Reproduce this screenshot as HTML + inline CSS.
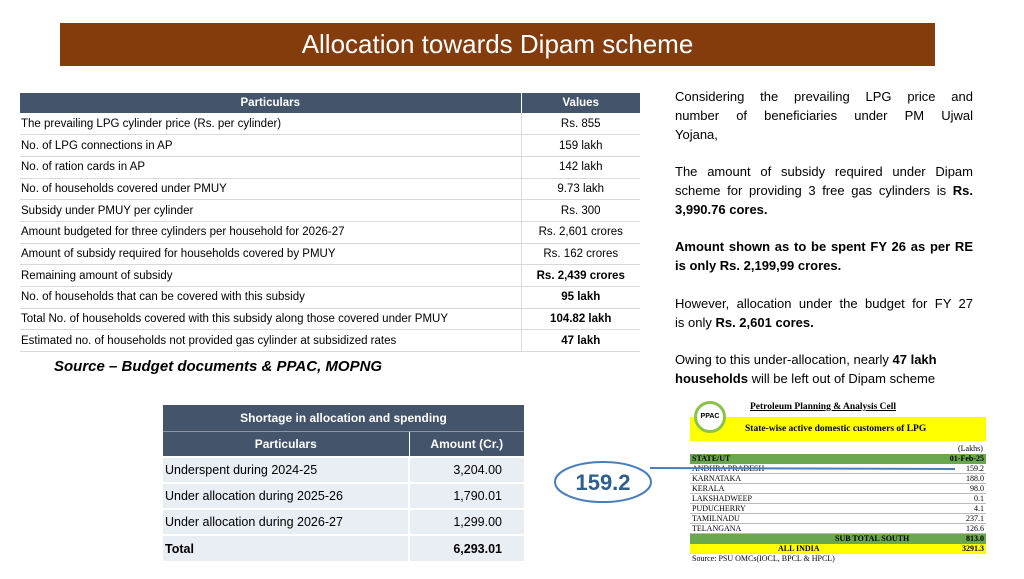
<!DOCTYPE html>
<html><head><meta charset="utf-8"><style>
*{margin:0;padding:0;box-sizing:border-box}
body{width:1024px;height:579px;background:#fff;position:relative;overflow:hidden;font-family:"Liberation Sans",sans-serif;color:#000}
.abs{position:absolute}
#banner{left:60px;top:23px;width:875px;height:43px;background:#843c0c;color:#fff;font-size:26px;text-align:center;line-height:43px}
table{border-collapse:collapse}
#t1{left:20px;top:93px;width:620px;font-size:11.5px}
#t1 th{background:#44546a;color:#fff;height:20px;font-weight:bold;font-size:11.5px}
#t1 td{height:21.7px;border-bottom:1px solid #d9d9d9;padding:0 1px;white-space:nowrap}
#t1 td.v{text-align:center;border-left:1px solid #d9d9d9}
#t1 th.v{border-left:1px solid #fff}
#t2{left:163px;top:405px;width:361px;font-size:12.5px}
#t2 th{background:#44546a;color:#fff;height:26px;font-size:12px}
#t2 td{background:#e9edf4;height:26px;border-top:2px solid #fff;padding:0 2px}
#t2 td.v{text-align:right;padding-right:22px;border-left:2px solid #fff}
#txt{left:675px;top:88px;width:298px;font-size:13px;line-height:18.8px}
#txt div{height:18.8px;white-space:nowrap}
#txt .j{text-align:justify;text-align-last:justify;white-space:normal}
#src{left:54px;top:358px;font-size:15px;font-weight:bold;font-style:italic}
#ppac{left:690px;top:395px;width:300px;height:172px;font-family:"Liberation Serif",serif;font-size:8px}
</style></head><body>
<div id="banner" class="abs">Allocation towards Dipam scheme</div>
<table id="t1" class="abs">
<tr><th>Particulars</th><th class="v" style="width:119px">Values</th></tr>
<tr><td>The prevailing LPG cylinder price (Rs. per cylinder)</td><td class="v">Rs. 855</td></tr>
<tr><td>No. of LPG connections in AP</td><td class="v">159 lakh</td></tr>
<tr><td>No. of ration cards in AP</td><td class="v">142 lakh</td></tr>
<tr><td>No. of households covered under PMUY</td><td class="v">9.73 lakh</td></tr>
<tr><td>Subsidy under PMUY per cylinder</td><td class="v">Rs. 300</td></tr>
<tr><td>Amount budgeted for three cylinders per household for 2026-27</td><td class="v">Rs. 2,601 crores</td></tr>
<tr><td>Amount of subsidy required for households covered by PMUY</td><td class="v">Rs. 162 crores</td></tr>
<tr><td>Remaining amount of subsidy</td><td class="v"><b>Rs. 2,439 crores</b></td></tr>
<tr><td>No. of households that can be covered with this subsidy</td><td class="v"><b>95 lakh</b></td></tr>
<tr><td>Total No. of households covered with this subsidy along those covered under PMUY</td><td class="v"><b>104.82 lakh</b></td></tr>
<tr><td>Estimated no. of households not provided gas cylinder at subsidized rates</td><td class="v"><b>47 lakh</b></td></tr>
</table>
<div id="src" class="abs">Source – Budget documents &amp; PPAC, MOPNG</div>
<table id="t2" class="abs">
<tr><th colspan="2">Shortage in allocation and spending</th></tr>
<tr><th style="border-top:1px solid #8a96a8">Particulars</th><th style="width:115px;border-top:1px solid #8a96a8;border-left:1px solid #fff">Amount (Cr.)</th></tr>
<tr><td>Underspent during 2024-25</td><td class="v">3,204.00</td></tr>
<tr><td>Under allocation during 2025-26</td><td class="v">1,790.01</td></tr>
<tr><td>Under allocation during 2026-27</td><td class="v">1,299.00</td></tr>
<tr><td><b>Total</b></td><td class="v"><b>6,293.01</b></td></tr>
</table>
<div id="txt" class="abs">
<div class="j">Considering the prevailing LPG price and</div>
<div class="j">number of beneficiaries under PM Ujwal</div>
<div>Yojana,</div>
<div></div>
<div class="j">The amount of subsidy required under Dipam</div>
<div class="j">scheme for providing 3 free gas cylinders is <b>Rs.</b></div>
<div><b>3,990.76 cores.</b></div>
<div></div>
<div class="j"><b>Amount shown as to be spent FY 26 as per RE</b></div>
<div><b>is only Rs. 2,199,99 crores.</b></div>
<div></div>
<div class="j">However, allocation under the budget for FY 27</div>
<div>is only <b>Rs. 2,601 cores.</b></div>
<div></div>
<div>Owing to this under-allocation, nearly <b>47 lakh</b></div>
<div><b>households</b> will be left out of Dipam scheme</div>
</div>
<div id="ppac" class="abs">
<div class="abs" style="left:4px;top:6px;width:32px;height:32px;border-radius:50%;border:3px solid #8bc34a;background:#fff;font-size:7px;font-weight:bold;text-align:center;line-height:26px;font-family:'Liberation Sans',sans-serif;z-index:2">PPAC</div>
<div class="abs" style="left:60px;top:7px;font-size:9.5px;font-weight:bold;text-decoration:underline">Petroleum Planning &amp; Analysis Cell</div>
<div class="abs" style="left:0;top:22px;width:296px;height:24px;background:#ffff00;font-size:9.5px;font-weight:bold;padding-left:55px;line-height:24px">State-wise active domestic customers of LPG</div>
<div class="abs" style="left:268px;top:49px">(Lakhs)</div>
<div class="abs" style="left:0;top:59px;width:296px">
<div style="height:10px;background:#6aa84f;font-weight:bold;display:flex;justify-content:space-between;padding:0 2px;line-height:10px"><span>STATE/UT</span><span>01-Feb-25</span></div>
<div style="height:10px;border-bottom:1px solid #bbb;display:flex;justify-content:space-between;padding:0 2px;line-height:10px"><span>ANDHRA PRADESH</span><span>159.2</span></div>
<div style="height:10px;border-bottom:1px solid #bbb;display:flex;justify-content:space-between;padding:0 2px;line-height:10px"><span>KARNATAKA</span><span>188.0</span></div>
<div style="height:10px;border-bottom:1px solid #bbb;display:flex;justify-content:space-between;padding:0 2px;line-height:10px"><span>KERALA</span><span>98.0</span></div>
<div style="height:10px;border-bottom:1px solid #bbb;display:flex;justify-content:space-between;padding:0 2px;line-height:10px"><span>LAKSHADWEEP</span><span>0.1</span></div>
<div style="height:10px;border-bottom:1px solid #bbb;display:flex;justify-content:space-between;padding:0 2px;line-height:10px"><span>PUDUCHERRY</span><span>4.1</span></div>
<div style="height:10px;border-bottom:1px solid #bbb;display:flex;justify-content:space-between;padding:0 2px;line-height:10px"><span>TAMILNADU</span><span>237.1</span></div>
<div style="height:10px;border-bottom:1px solid #bbb;display:flex;justify-content:space-between;padding:0 2px;line-height:10px"><span>TELANGANA</span><span>126.6</span></div>
<div style="height:10px;background:#6aa84f;font-weight:bold;display:flex;justify-content:space-between;padding:0 2px 0 145px;line-height:10px"><span>SUB TOTAL SOUTH</span><span>813.0</span></div>
<div style="height:10px;background:#ffff00;font-weight:bold;display:flex;justify-content:space-between;padding:0 2px 0 88px;line-height:10px"><span>ALL INDIA</span><span>3291.3</span></div>
<div style="height:10px;line-height:10px;padding-left:2px">Source: PSU OMCs(IOCL, BPCL &amp; HPCL)</div>
</div>
</div>
<svg class="abs" style="left:0;top:0" width="1024" height="579">
<line x1="650" y1="468" x2="955" y2="469" stroke="#4a7ebb" stroke-width="2"/>
<ellipse cx="603" cy="482" rx="48" ry="20" fill="#fff" stroke="#4a7ebb" stroke-width="2"/>
<text x="603" y="490" text-anchor="middle" font-family="Liberation Sans,sans-serif" font-size="22" font-weight="bold" fill="#2e5f8f">159.2</text>
</svg>
</body></html>
